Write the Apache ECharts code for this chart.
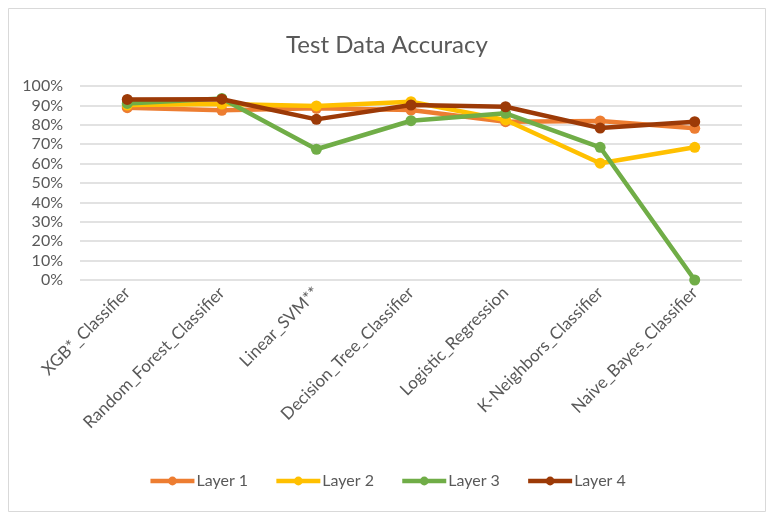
<!DOCTYPE html>
<html>
<head>
<meta charset="utf-8">
<script src="https://cdn.jsdelivr.net/npm/echarts@6/dist/echarts.min.js"></script>
<style>
  html, body { margin: 0; padding: 0; background: #fff; }
  #chart { width: 774px; height: 521px; }
</style>
</head>
<body>
<div id="chart"></div>
<script>
// categories and layer accuracies (%)
const categories = ['XGB*_Classifier', 'Random_Forest_Classifier', 'Linear_SVM**',
  'Decision_Tree_Classifier', 'Logistic_Regression', 'K-Neighbors_Classifier', 'Naive_Bayes_Classifier'];
const layer1 = [88.8, 87.5, 88.5, 87.6, 81.6, 82.0, 78.2];
const layer2 = [90.2, 90.7, 89.7, 91.9, 82.5, 60.2, 68.4];
const layer3 = [91.0, 93.6, 67.4, 82.1, 85.9, 68.4, 0];
const layer4 = [93.1, 93.2, 82.8, 90.2, 89.3, 78.3, 81.6];
const seriesNames = ['Layer 1', 'Layer 2', 'Layer 3', 'Layer 4'];
const colors = ['#ED7D31', '#FFC000', '#70AD47', '#9C3A07'];

const font = 'Lato, "Open Sans", sans-serif';
const chart = echarts.init(document.getElementById('chart'));

const makeSeries = (name, data, i) => ({
  name: name,
  type: 'line',
  data: data,
  symbol: 'circle',
  symbolSize: 11,
  lineStyle: { width: 4.5, color: colors[i] },
  itemStyle: { color: colors[i] },
  z: 2 + i
});

chart.setOption({
  backgroundColor: '#fff',
  animation: false,
  graphic: [{
    type: 'rect',
    shape: { x: 8.5, y: 8.5, width: 757, height: 503 },
    style: { fill: 'none', stroke: '#d9d9d9', lineWidth: 1 }
  }],
  title: {
    text: 'Test Data Accuracy',
    left: 'center',
    top: 28,
    textStyle: { color: '#595959', fontSize: 24, fontWeight: 'normal', fontFamily: font }
  },
  legend: {
    bottom: 27,
    left: 'center',
    itemWidth: 44,
    itemHeight: 11,
    itemGap: 26,
    lineStyle: { width: 4.5 },
    textStyle: { color: '#595959', fontSize: 16, fontFamily: font, padding: [0, 0, 0, -3] },
    data: seriesNames
  },
  grid: { left: 80, right: 32, top: 86, bottom: 241, containLabel: false, outerBoundsMode: 'none' },
  xAxis: {
    type: 'category',
    data: categories,
    boundaryGap: true,
    axisLine: { show: false },
    axisTick: { show: false },
    axisLabel: {
      rotate: 45,
      interval: 0,
      margin: 10,
      color: '#595959',
      fontSize: 17,
      fontFamily: font
    }
  },
  yAxis: {
    type: 'value',
    min: 0,
    max: 100,
    interval: 10,
    axisLine: { show: false },
    axisTick: { show: false },
    axisLabel: {
      formatter: '{value}%',
      color: '#595959',
      fontSize: 16,
      fontFamily: font,
      margin: 17
    },
    splitLine: { lineStyle: { color: '#d9d9d9', width: 1.5 } }
  },
  series: [
    makeSeries(seriesNames[0], layer1, 0),
    makeSeries(seriesNames[1], layer2, 1),
    makeSeries(seriesNames[2], layer3, 2),
    makeSeries(seriesNames[3], layer4, 3)
  ]
});
</script>
</body>
</html>
